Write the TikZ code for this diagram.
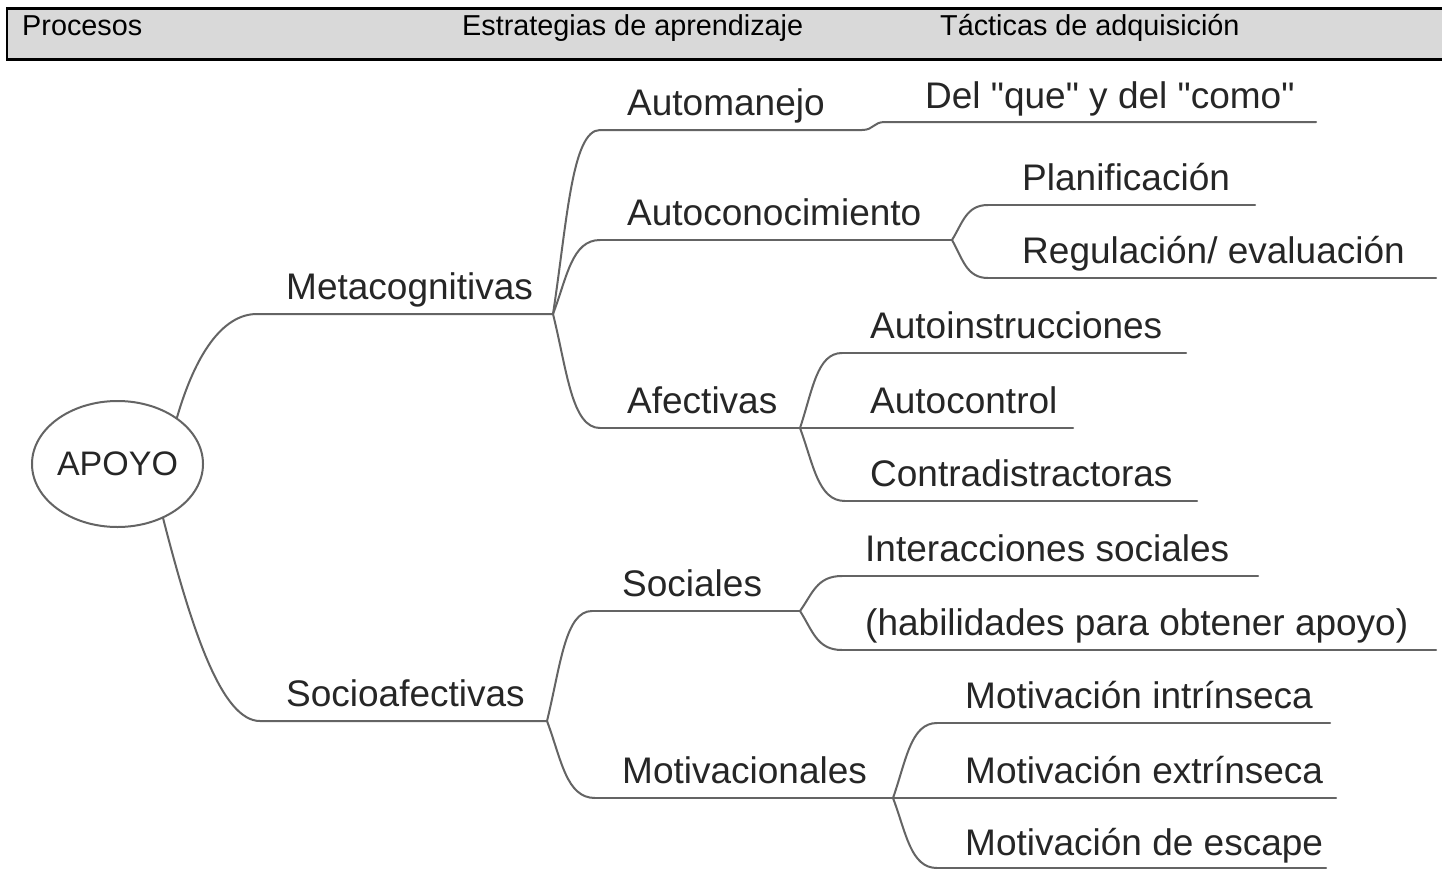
\documentclass[tikz,border=0pt]{standalone}
\usepackage{fontspec}
\setmainfont{Liberation Sans}[Ligatures=TeXOff]
\usetikzlibrary{calc,shapes.geometric}
\definecolor{hdrfill}{HTML}{D9D9D9}
\definecolor{lnc}{HTML}{646464}
\definecolor{txc}{HTML}{262626}
\newcommand\brc[2]{\draw[conn] let \p1=(#1), \p2=(#2) in (\p1) .. controls ({\x1+0.3*(\x2-\x1)},{\y1+0.5*(\y2-\y1)}) and ({\x1+0.4*(\x2-\x1)},\y2) .. (\p2);}
\tikzset{
  conn/.style={draw=lnc, line width=2pt, line cap=round},
  lbl/.style={anchor=base west, inner sep=0pt, font=\fontsize{37}{44}\selectfont, text=txc},
  hdr/.style={anchor=base west, inner sep=0pt, font=\fontsize{28.8}{34}\selectfont, text=black},
  rootnode/.style={ellipse, draw=lnc, line width=2pt, fill=white, minimum width=171pt, minimum height=126pt, inner sep=0pt, font=\fontsize{34}{40}\selectfont, text=txc},
}
\begin{document}
\begin{tikzpicture}[x=1pt,y=-1pt]
\useasboundingbox (0,0) rectangle (1442,870);
\clip (0,0) rectangle (1442,870);
\fill[white] (0,0) rectangle (1442,870);
% header
\path[fill=hdrfill, draw=black, line width=2.2pt] (7,8.5) rectangle (1452,59.5);
\node[hdr] (hproc) at (22,35.7) {Procesos};
\node[hdr] (hestr) at (462,35.7) {Estrategias de aprendizaje};
\node[hdr] (htact) at (940,35.7) {Tácticas de adquisición};
% root
\node[rootnode] (apoyo) at (117.5,464) {APOYO};
% coordinates
\coordinate (m1s) at (257,314);
\coordinate (mbp) at (553,314);
\coordinate (s1s) at (260,721);
\coordinate (sbp) at (547,721);
\coordinate (am1) at (600,130);
\coordinate (am2) at (862,130);
\coordinate (am3) at (885,122);
\coordinate (am4) at (1316,122);
\coordinate (ac1) at (600,240);
\coordinate (abp) at (952,240);
\coordinate (pl1) at (988,205);
\coordinate (pl2) at (1255,205);
\coordinate (rg1) at (988,278);
\coordinate (rg2) at (1436,278);
\coordinate (af1) at (600,428);
\coordinate (afbp) at (800,428);
\coordinate (ai1) at (842,353);
\coordinate (ai2) at (1186,353);
\coordinate (act2) at (1073,428);
\coordinate (cd1) at (845,501);
\coordinate (cd2) at (1197,501);
\coordinate (so1) at (592,611);
\coordinate (ssbp) at (800,611);
\coordinate (is1) at (842,576);
\coordinate (is2) at (1258,576);
\coordinate (hb1) at (842,650);
\coordinate (hb2) at (1436,650);
\coordinate (mo1) at (595,798);
\coordinate (mvbp) at (893,798);
\coordinate (mi1) at (937,723);
\coordinate (mi2) at (1330,723);
\coordinate (me2) at (1336,798);
\coordinate (ms1) at (937,868);
\coordinate (ms2) at (1326,868);
% level 1
\draw[conn] (apoyo.38) .. controls ($(apoyo.38)+(18,-62)$) and ($(m1s)+(-35,0)$) .. (m1s) -- (mbp);
\draw[conn] (apoyo.-50) .. controls ($(apoyo.-50)+(29,113)$) and ($(s1s)+(-38,0)$) .. (s1s) -- (sbp);
% level 2 metacognitivas
\brc{mbp}{am1}
\draw[conn] (am1) -- (am2) .. controls ($(am2)+(12,0)$) and ($(am3)+(-12,0)$) .. (am3) -- (am4);
\brc{mbp}{ac1}
\draw[conn] (ac1) -- (abp);
\brc{mbp}{af1}
\draw[conn] (af1) -- (afbp);
% autoconocimiento
\brc{abp}{pl1}
\draw[conn] (pl1) -- (pl2);
\brc{abp}{rg1}
\draw[conn] (rg1) -- (rg2);
% afectivas
\brc{afbp}{ai1}
\draw[conn] (ai1) -- (ai2);
\draw[conn] (afbp) -- (act2);
\brc{afbp}{cd1}
\draw[conn] (cd1) -- (cd2);
% socioafectivas
\brc{sbp}{so1}
\draw[conn] (so1) -- (ssbp);
\brc{sbp}{mo1}
\draw[conn] (mo1) -- (mvbp);
\brc{ssbp}{is1}
\draw[conn] (is1) -- (is2);
\brc{ssbp}{hb1}
\draw[conn] (hb1) -- (hb2);
\brc{mvbp}{mi1}
\draw[conn] (mi1) -- (mi2);
\draw[conn] (mvbp) -- (me2);
\brc{mvbp}{ms1}
\draw[conn] (ms1) -- (ms2);
% labels
\node[lbl] (metac) at (286,299) {Metacognitivas};
\node[lbl] (socio) at (286,706) {Socioafectivas};
\node[lbl] (autom) at (627,115) {Automanejo};
\node[lbl] (autoc) at (627,225) {Autoconocimiento};
\node[lbl] (afect) at (627,413) {Afectivas};
\node[lbl] (socia) at (622,596) {Sociales};
\node[lbl] (motiv) at (622,783) {Motivacionales};
\node[lbl] (delq) at (925,108) {Del "que" y del "como"};
\node[lbl] (plan) at (1022,190) {Planificación};
\node[lbl] (regu) at (1022,263) {Regulación/ evaluación};
\node[lbl] (ains) at (870,338) {Autoinstrucciones};
\node[lbl] (actl) at (870,413) {Autocontrol};
\node[lbl] (cdis) at (870,486) {Contradistractoras};
\node[lbl] (inter) at (865,561) {Interacciones sociales};
\node[lbl] (habil) at (865,635) {(habilidades para obtener apoyo)};
\node[lbl] (mint) at (965,708) {Motivación intrínseca};
\node[lbl] (mext) at (965,783) {Motivación extrínseca};
\node[lbl] (mesc) at (965,855) {Motivación de escape};
\end{tikzpicture}
\end{document}
